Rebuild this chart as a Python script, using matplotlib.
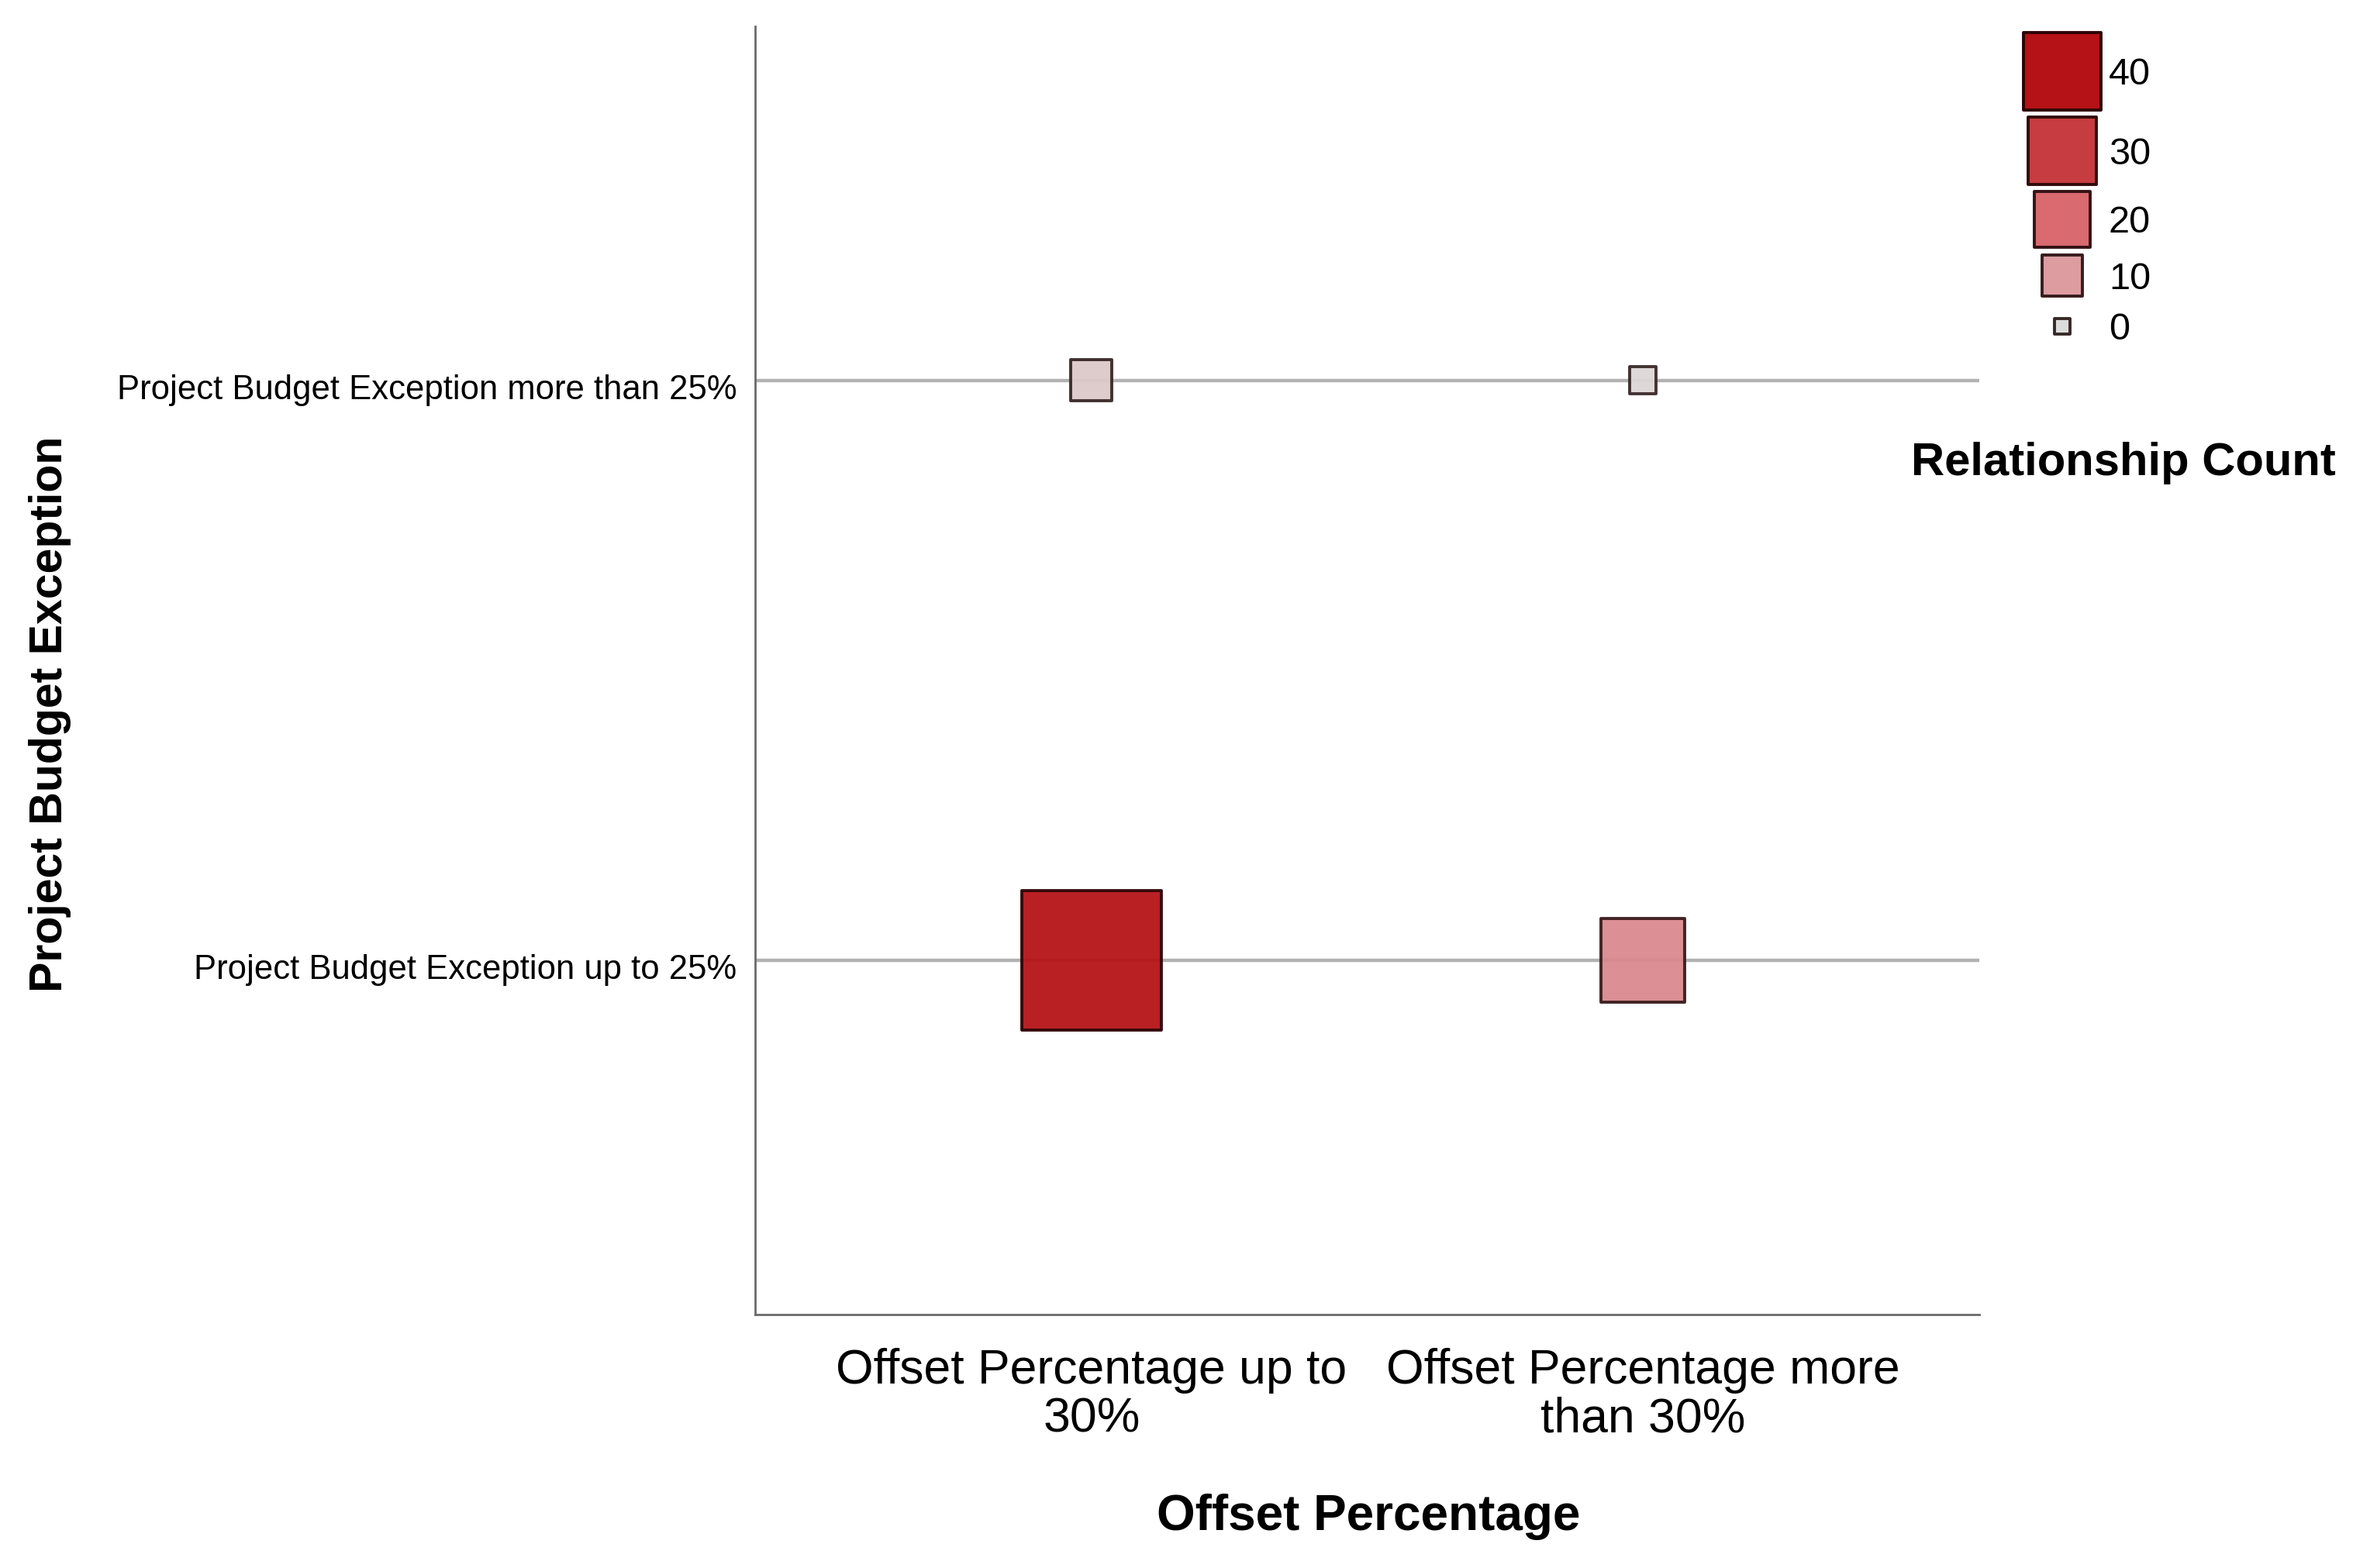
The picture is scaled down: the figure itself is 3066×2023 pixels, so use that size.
import numpy as np
import matplotlib.pyplot as plt
from matplotlib.colors import LinearSegmentedColormap, Normalize
from matplotlib.transforms import ScaledTranslation

plt.rcParams['font.family'] = ['Liberation Sans', 'DejaVu Sans']

# categories
x_labels = ["Offset Percentage up to\n30%", "Offset Percentage more\nthan 30%"]
y_labels = ["Project Budget Exception up to 25%",
            "Project Budget Exception more than 25%"]
# relationship counts, rows follow y_labels, columns follow x_labels
counts = [[40, 14],
          [3, 1]]
legend_levels = [40, 30, 20, 10, 0]
# colour ramp from 0 to 40
ramp_colors = ["#dcdcdc", "#dc9ca0", "#d86a70", "#c63c40", "#b41216"]

DPI = 100
PX2PT = 72.0 / DPI

cmap = LinearSegmentedColormap.from_list("relcount", ramp_colors)
norm = Normalize(vmin=0, vmax=40)


def edge_of(c):
    r, g, b, a = cmap(norm(c))
    return (r * 0.25, g * 0.18, b * 0.18)


def plot_area(c):
    # marker area in points^2 for the chart squares
    return (400 + 800 * np.asarray(c, dtype=float)) * PX2PT ** 2


def legend_side(c):
    # marker side in pixels for the legend squares
    return np.sqrt(400 + 240 * np.asarray(c, dtype=float))


fig = plt.figure(figsize=(30.66, 20.24), dpi=DPI)
ax = fig.add_axes([974 / 3066, 1 - 1697 / 2024, 1579 / 3066, 1662 / 2024])

xs, ys, cs = [], [], []
for yi, row in enumerate(counts):
    for xi, c in enumerate(row):
        xs.append(xi)
        ys.append(yi)
        cs.append(c)

for yi in range(len(y_labels)):
    ax.axhline(yi, color="#b2b2b2", lw=3.2, zorder=1)

ax.scatter(xs, ys, s=plot_area(cs), c=cs, cmap=cmap, norm=norm, marker="s",
           edgecolors=[edge_of(c) for c in cs], linewidths=2.8, alpha=0.94,
           zorder=3)

ax.set_xlim(-0.61, 1.61)
ax.set_ylim(-0.61, 1.61)
ax.set_xticks(range(len(x_labels)), x_labels, fontsize=45, linespacing=1.08)
ax.set_yticks(range(len(y_labels)), y_labels, fontsize=31.4)
ax.tick_params(axis="x", length=0, pad=30)
ax.tick_params(axis="y", length=0, pad=17)
shift_down = ScaledTranslation(0, -0.07, fig.dpi_scale_trans)
for lbl in ax.get_yticklabels():
    lbl.set_transform(lbl.get_transform() + shift_down)
for side in ("top", "right"):
    ax.spines[side].set_visible(False)
for side in ("left", "bottom"):
    ax.spines[side].set_color("#6a6a6a")
    ax.spines[side].set_linewidth(2.0)

fig.text(65 / 3066, 1 - 921 / 2024, "Project Budget Exception", rotation=90,
         ha="center", va="center", fontsize=42.5, fontweight="bold")
fig.text(1765 / 3066, 1 - 1957 / 2024, "Offset Percentage",
         ha="center", va="center", fontsize=46, fontweight="bold")

# size / colour legend, drawn in pixel units
lax = fig.add_axes([2560 / 3066, 1 - 470 / 2024, 300 / 3066, 450 / 2024])
lax.set_xlim(2560, 2860)
lax.set_ylim(470, 20)
lax.axis("off")

sides = legend_side(legend_levels)
rows = np.maximum(sides, 56) + 9
centers = 38 + np.cumsum(rows) - rows / 2
lax.scatter(np.full(len(legend_levels), 2660), centers,
            s=(sides * PX2PT) ** 2, c=legend_levels, cmap=cmap, norm=norm,
            marker="s", edgecolors=[edge_of(c) for c in legend_levels],
            linewidths=2.8, clip_on=False)
for lvl, cy in zip(legend_levels, centers):
    lax.text(2720, cy + 4, str(lvl), ha="left", va="center", fontsize=35)

fig.text(2739 / 3066, 1 - 598 / 2024, "Relationship Count",
         ha="center", va="center", fontsize=43, fontweight="bold")

fig.savefig("out.png", dpi=DPI)
